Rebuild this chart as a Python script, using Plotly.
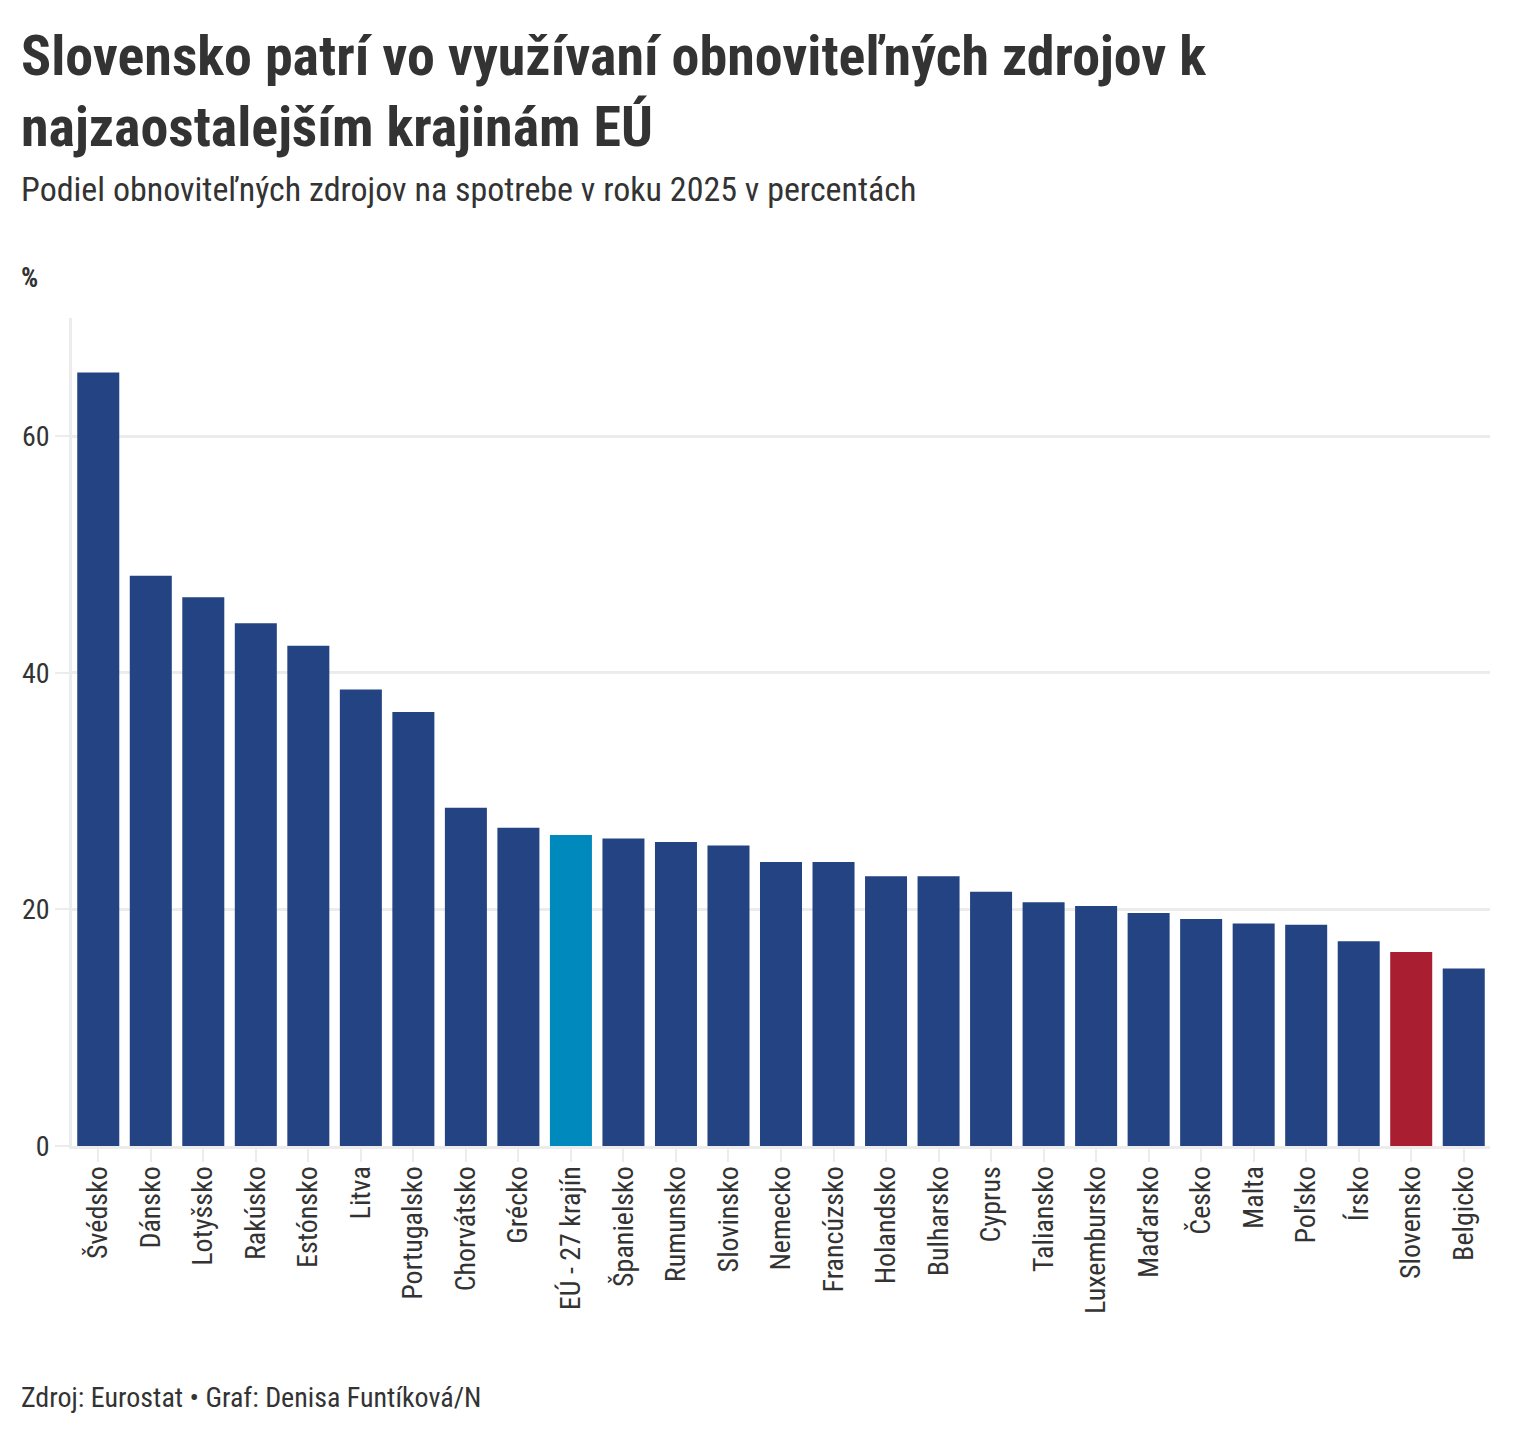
import plotly.graph_objects as go

# data
countries = [
    "Švédsko", "Dánsko", "Lotyšsko", "Rakúsko", "Estónsko", "Litva",
    "Portugalsko", "Chorvátsko", "Grécko", "EÚ - 27 krajín", "Španielsko",
    "Rumunsko", "Slovinsko", "Nemecko", "Francúzsko", "Holandsko",
    "Bulharsko", "Cyprus", "Taliansko", "Luxembursko", "Maďarsko", "Česko",
    "Malta", "Poľsko", "Írsko", "Slovensko", "Belgicko",
]
shares = [
    65.4, 48.2, 46.4, 44.2, 42.3, 38.6,
    36.7, 28.6, 26.9, 26.3, 26.0,
    25.7, 25.4, 24.0, 24.0, 22.8,
    22.8, 21.5, 20.6, 20.3, 19.7, 19.2,
    18.8, 18.7, 17.3, 16.4, 15.0,
]
y_ticks = [0, 20, 40, 60]

BLUE = "#234382"
EU_BLUE = "#0089bd"
RED = "#a91f31"
TEXT = "#333333"
GRID = "#ececec"
FONT = "Roboto Condensed, Roboto, sans-serif"

colors = []
for c in countries:
    if c.startswith("EÚ"):
        colors.append(EU_BLUE)
    elif c == "Slovensko":
        colors.append(RED)
    else:
        colors.append(BLUE)

fig = go.Figure(go.Bar(
    x=countries,
    y=shares,
    marker=dict(color=colors, line=dict(width=0)),
    hovertemplate="%{x}: %{y:.1f} %<extra></extra>",
))

fig.update_layout(
    width=1524,
    height=1440,
    margin=dict(l=64, r=42, t=310, b=302),
    paper_bgcolor="white",
    plot_bgcolor="white",
    font=dict(family=FONT, color=TEXT, size=22),
    bargap=0.2,
    showlegend=False,
)

fig.update_yaxes(
    range=[0, 70],
    tickvals=y_ticks,
    showgrid=True,
    gridcolor=GRID,
    gridwidth=2.5,
    zeroline=False,
    showline=True,
    linecolor=GRID,
    linewidth=2.5,
    ticks="outside",
    ticklen=14,
    tickcolor=GRID,
    tickwidth=2,
    tickfont=dict(size=28, color=TEXT),
)
fig.update_xaxes(
    tickangle=-90,
    showline=True,
    linecolor=GRID,
    linewidth=3,
    ticks="outside",
    ticklen=13,
    tickcolor=GRID,
    tickwidth=2,
    ticklabelstandoff=-7,
    tickfont=dict(size=28, color=TEXT),
)

# title, subtitle, unit label and source as annotations
X0 = -0.0374
fig.add_annotation(
    text="<b>Slovensko patrí vo využívaní obnoviteľných zdrojov k</b>",
    xref="paper", yref="paper", x=X0, y=1.3164,
    xanchor="left", yanchor="middle", showarrow=False,
    font=dict(size=56, color=TEXT),
)
fig.add_annotation(
    text="<b>najzaostalejším krajinám EÚ</b>",
    xref="paper", yref="paper", x=X0, y=1.2307,
    xanchor="left", yanchor="middle", showarrow=False,
    font=dict(size=56, color=TEXT),
)
fig.add_annotation(
    text="Podiel obnoviteľných zdrojov na spotrebe v roku 2025 v percentách",
    xref="paper", yref="paper", x=X0, y=1.1558,
    xanchor="left", yanchor="middle", showarrow=False,
    font=dict(size=34, color=TEXT),
)
fig.add_annotation(
    text="<b>%</b>",
    xref="paper", yref="paper", x=X0, y=1.0483,
    xanchor="left", yanchor="middle", showarrow=False,
    font=dict(size=27, color=TEXT),
)
fig.add_annotation(
    text="Zdroj: Eurostat • Graf: Denisa Funtíková/N",
    xref="paper", yref="paper", x=X0, y=-0.3043,
    xanchor="left", yanchor="middle", showarrow=False,
    font=dict(size=28, color=TEXT),
)

fig.write_html("out.html")
